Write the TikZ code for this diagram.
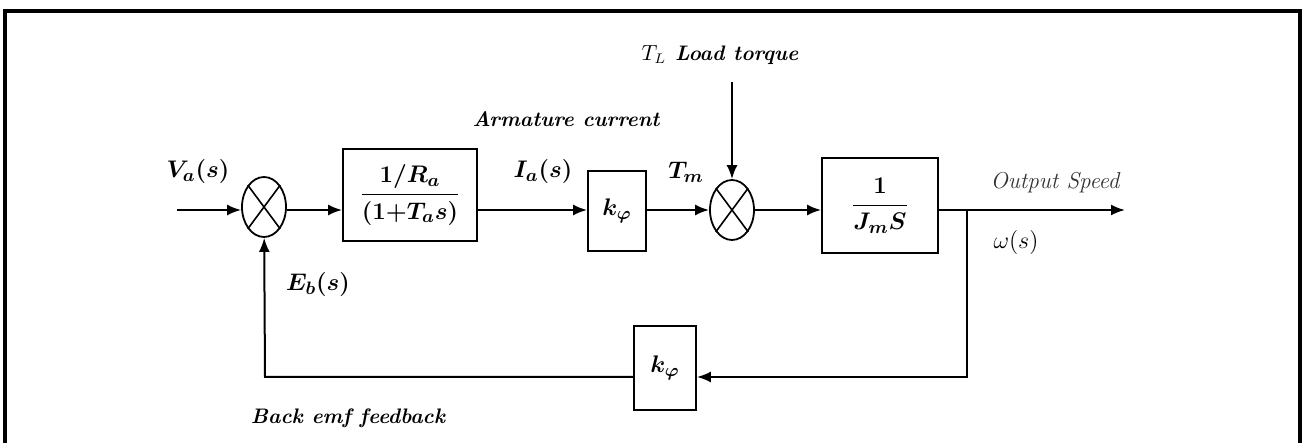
\documentclass[tikz,border=0pt]{standalone}
\usetikzlibrary{arrows.meta,shapes.geometric}
\begin{document}
\begin{tikzpicture}[x=0.5pt,y=-0.5pt,
  arr/.style={line width=1pt,-{Latex[length=7pt,width=5.5pt]}},
  blk/.style={draw,line width=0.9pt,inner sep=0pt,font=\fontsize{13}{16}\selectfont\boldmath},
  sumj/.style={draw,ellipse,line width=0.9pt,minimum width=22pt,minimum height=30pt,inner sep=0pt},
  lbl/.style={font=\fontsize{12.5}{14}\selectfont\boldmath,inner sep=0pt},
  txt/.style={font=\fontsize{10.5}{12}\selectfont\bfseries\itshape,inner sep=0pt},
]
\useasboundingbox (0,0) rectangle (1303,443);
% frame
\draw[line width=1.6pt] (5,445) -- (5,11) -- (1300,11) -- (1300,445);

% nodes
\coordinate (in) at (177,210);
\node[sumj] (s1) at (264,207) {};
\draw[line width=0.8pt] (s1.north west) -- (s1.south east) (s1.north east) -- (s1.south west);
\node[blk,minimum width=67pt,minimum height=46pt] (b1) at (410,195)
  {$\displaystyle\frac{1/R_a}{(1{+}T_a s)}$};
\node[blk,minimum width=29pt,minimum height=40pt] (b2) at (617,211) {$k_\varphi$};
\node[sumj] (s2) at (732,210) {};
\draw[line width=0.8pt] (s2.north west) -- (s2.south east) (s2.north east) -- (s2.south west);
\node[blk,minimum width=58pt,minimum height=47.5pt] (b3) at (880,205.5)
  {$\displaystyle\frac{1}{J_m S}$};
\node[blk,minimum width=31pt,minimum height=42pt] (bf) at (665,368) {$k_\varphi$};
\coordinate (tl) at (s2 |- 0,82);
\coordinate (br) at (967,210);
\coordinate (out) at (1125,210);
\coordinate (fr) at (967,377);
\coordinate (fl) at (265,377);

% connectors
\draw[arr] (in) -- (s1.west |- in);
\draw[arr] (s1.east |- in) -- (b1.west |- in);
\draw[arr] (b1.east |- in) -- (b2.west |- in);
\draw[arr] (b2.east |- in) -- (s2);
\draw[arr] (tl) -- (s2);
\draw[arr] (s2) -- (b3.west |- s2);
\draw[arr] (b3.east |- s2) -- (out);
\draw[arr] (br) -- (fr) -- (bf.east |- fr);
\draw[arr] (bf.west |- fl) -- (fl) -- (s1);

% labels
\node[lbl] (la) at (198,172) {$V_a(s)$};
\node[lbl] (lb) at (318,285) {$E_b(s)$};
\node[lbl] (lc) at (543,172) {$I_a(s)$};
\node[lbl] (ld) at (686,172) {$T_m$};
\node[lbl,font=\fontsize{12.5}{14}\selectfont] (le) at (1016,243) {$\omega(s)$};
\node[font=\fontsize{11.5}{13}\selectfont\itshape,inner sep=0pt,text=black!80] (lf) at (1055,183) {Output Speed};
\node[txt] (lg) at (720,55) {$T_L$ Load torque};
\node[txt] (lh) at (566,119) {Armature current};
\node[txt] (li) at (348,418) {Back emf feedback};
\end{tikzpicture}
\end{document}
